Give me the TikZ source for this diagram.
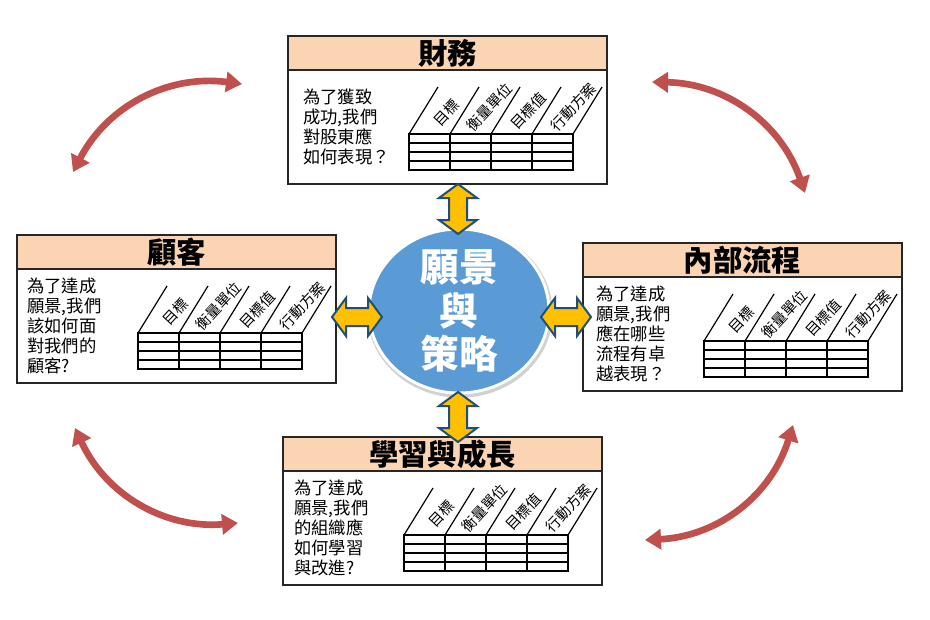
\documentclass[tikz,border=0pt]{standalone}
\usepackage{fontspec}
\usepackage{graphicx}
\setmainfont{Noto Sans CJK TC}
\usetikzlibrary{arrows.meta,shapes.geometric}
\definecolor{peach}{HTML}{FBD4B4}
\definecolor{skyblue}{HTML}{5B9BD5}
\definecolor{gold}{HTML}{FFC000}
\definecolor{navyline}{HTML}{1F4E79}
\definecolor{brick}{HTML}{C0504D}
\newcommand{\diaglbl}[1]{\rotatebox{47}{#1}}
\begin{document}
\begin{tikzpicture}[x=0.75pt,y=-0.75pt,
  boxframe/.style={draw=black!85, line width=1.1pt, fill=white, rectangle, inner sep=0pt, minimum width=239.25pt, minimum height=111pt},
  boxhead/.style={draw=black!85, line width=1.1pt, fill=peach, rectangle, inner sep=0pt, minimum width=239.25pt, minimum height=25.5pt, font=\fontsize{22}{24}\selectfont\bfseries},
  bodytext/.style={inner sep=0pt, align=left, anchor=north west, font=\fontsize{13}{15}\selectfont},
  tbl/.style={draw=black, line width=0.9pt},
  lbl/.style={inner sep=0pt, font=\fontsize{11}{12}\selectfont},
  yarrow/.style={fill=gold, draw=navyline, line width=1.5pt, line join=miter},
  redarrow/.style={draw=brick, line width=5pt, arrows={Triangle[width=15pt,length=12pt]-Triangle[width=15pt,length=12pt]}},
  pics/bsc/.style n args={3}{code={
    \node[boxframe] (-frame) at (159.5,74) {};
    \node[boxhead] (-head) at (159.5,17) {#1};
    \node[bodytext] (-body) at (#3) {#2};
    \draw[tbl] (121,98) rectangle (285,134);
    \foreach \yy in {107,116,125} \draw[tbl] (121,\yy) -- (285,\yy);
    \foreach \xx in {162,203,244} \draw[tbl] (\xx,98) -- (\xx,134);
    \foreach \xx in {121,162,203,244,285} \draw[tbl] (\xx,98) -- ++(29,-47);
    \node[lbl] (-l1) at (158,77) {\diaglbl{目標}};
    \node[lbl] (-l2) at (201,71) {\diaglbl{衡量單位}};
    \node[lbl] (-l3) at (240,75) {\diaglbl{目標值}};
    \node[lbl] (-l4) at (285,71) {\diaglbl{行動方案}};
  }},
  pics/dbl/.style={code={
    \draw[yarrow] (-25,0) -- (-11,-19) -- (-11,-9) -- (11,-9) -- (11,-19) -- (25,0) -- (11,19) -- (11,9) -- (-11,9) -- (-11,19) -- cycle;
  }},
]
\useasboundingbox[fill=white] (0,0) rectangle (930,619);

% red curved arrows
\coordinate (tlA) at (73,172);  \coordinate (tlB) at (242,84);
\coordinate (trA) at (652,82);  \coordinate (trB) at (805,193);
\coordinate (blA) at (75,428);  \coordinate (blB) at (238,523);
\coordinate (brA) at (793,425); \coordinate (brB) at (645,540);
\draw[redarrow] (tlA) to[bend left=35] (tlB);
\draw[redarrow] (trA) to[bend left=35] (trB);
\draw[redarrow] (blA) to[bend right=35] (blB);
\draw[redarrow] (brA) to[bend left=35] (brB);

% four perspective boxes
\pic (fin) at (288,36) {bsc={財務}{為了獲致\\成功,我們\\對股東應\\如何表現？}{15,53}};
\pic (cus) at (17,235) {bsc={顧客}{為了達成\\願景,我們\\該如何面\\對我們的\\顧客?}{10,43}};
\pic (int) at (583,243) {bsc={內部流程}{為了達成\\願景,我們\\應在哪些\\流程有卓\\越表現？}{13,43}};
\pic (lrn) at (283,437) {bsc={學習與成長}{為了達成\\願景,我們\\的組織應\\如何學習\\與改進?}{11,43}};

% center
\node[ellipse, fill=black!18, inner sep=0pt, minimum width=139pt, minimum height=127pt] (shadow) at (460,313) {};
\node[ellipse, fill=skyblue, draw=white, line width=2.2pt, inner sep=0pt, minimum width=135pt, minimum height=123pt] (vision) at (459,311) {};
\node[text=white, align=center, inner sep=0pt, font=\fontsize{29}{32.5}\selectfont\bfseries] (visiontext) at (vision.center) {願景\\與\\策略};

% yellow double arrows
\pic[rotate=90] (aT) at (458,209) {dbl};
\pic[rotate=90] (aB) at (458,417) {dbl};
\pic (aL) at (357,317) {dbl};
\pic (aR) at (566,317) {dbl};
\end{tikzpicture}
\end{document}
